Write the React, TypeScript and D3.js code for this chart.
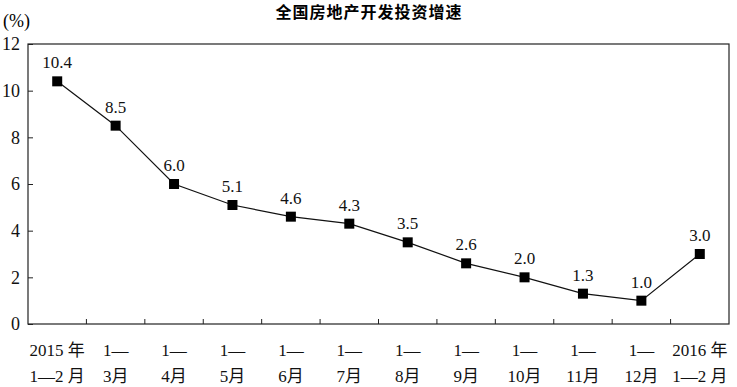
import React, { useEffect, useRef } from "react";
import * as d3 from "d3";

const line1 = ["2015 年", "1—", "1—", "1—", "1—", "1—", "1—", "1—", "1—", "1—", "1—", "2016 年"];
const line2 = ["1—2 月", "3月", "4月", "5月", "6月", "7月", "8月", "9月", "10月", "11月", "12月", "1—2 月"];
const growth = [10.4, 8.5, 6.0, 5.1, 4.6, 4.3, 3.5, 2.6, 2.0, 1.3, 1.0, 3.0];
const yTicks = [0, 2, 4, 6, 8, 10, 12];

const App = () => {
  const svgRef = useRef<SVGSVGElement>(null);

  useEffect(() => {
    const svg = d3.select(svgRef.current);
    svg.selectAll("*").remove();

    const width = 737;
    const height = 387;
    const left = 28, right = 729, top = 44, bottom = 324;
    const serif = "'Liberation Serif', 'Noto Sans CJK SC', serif";

    svg.attr("width", width).attr("height", height);

    const idx = growth.map((_, i) => i);
    const x = d3.scaleBand<number>().domain(idx).range([left, right]);
    const y = d3.scaleLinear().domain([0, 12]).range([bottom, top]);

    // title
    svg.append("text")
      .attr("x", 369).attr("y", 18)
      .attr("text-anchor", "middle")
      .attr("font-family", "'Noto Sans CJK SC', sans-serif")
      .attr("font-weight", "bold")
      .attr("font-size", 16)
      .attr("letter-spacing", 1)
      .text("全国房地产开发投资增速");

    svg.append("text")
      .attr("x", 3).attr("y", 27)
      .attr("font-family", serif)
      .attr("font-size", 18)
      .text("(%)");

    // frame
    svg.append("rect")
      .attr("x", left).attr("y", top)
      .attr("width", right - left).attr("height", bottom - top)
      .attr("fill", "none")
      .attr("stroke", "#222")
      .attr("stroke-width", 1.2);

    // y axis, inward ticks
    const yAxis = svg.append("g")
      .attr("transform", `translate(${left},0)`)
      .call(d3.axisLeft(y).tickValues(yTicks).tickSize(-5).tickPadding(8).tickFormat(d3.format("d")));
    yAxis.select(".domain").remove();
    yAxis.selectAll("line").attr("stroke", "#222");
    yAxis.selectAll("text")
      .attr("font-family", serif)
      .attr("font-size", 18)
      .attr("fill", "#111");

    // x ticks between categories, pointing up
    svg.append("g")
      .selectAll("line")
      .data(idx.slice(1))
      .enter()
      .append("line")
      .attr("x1", d => x(d)!)
      .attr("x2", d => x(d)!)
      .attr("y1", bottom)
      .attr("y2", bottom - 5)
      .attr("stroke", "#222");

    // x labels
    const lab = svg.append("g")
      .attr("font-family", serif)
      .attr("font-size", 17)
      .attr("fill", "#111")
      .attr("text-anchor", "middle");
    lab.selectAll("text.l1")
      .data(idx)
      .enter()
      .append("text")
      .attr("x", d => x(d)! + x.bandwidth() / 2)
      .attr("y", 356)
      .text(d => line1[d]);
    lab.selectAll("text.l2")
      .data(idx)
      .enter()
      .append("text")
      .attr("x", d => x(d)! + x.bandwidth() / 2)
      .attr("y", 382)
      .text(d => line2[d]);

    const cx = (i: number) => x(i)! + x.bandwidth() / 2;

    // line
    const lineGen = d3.line<number>()
      .x((_, i) => cx(i))
      .y(d => y(d));
    svg.append("path")
      .datum(growth)
      .attr("d", lineGen)
      .attr("fill", "none")
      .attr("stroke", "#111")
      .attr("stroke-width", 1.2);

    // markers
    svg.selectAll("rect.pt")
      .data(growth)
      .enter()
      .append("rect")
      .attr("class", "pt")
      .attr("x", (_, i) => cx(i) - 5)
      .attr("y", d => y(d) - 5)
      .attr("width", 10)
      .attr("height", 10)
      .attr("fill", "#000");

    // value labels
    svg.selectAll("text.val")
      .data(growth)
      .enter()
      .append("text")
      .attr("class", "val")
      .attr("x", (_, i) => cx(i))
      .attr("y", d => y(d) - 13)
      .attr("text-anchor", "middle")
      .attr("font-family", serif)
      .attr("font-size", 17)
      .attr("fill", "#111")
      .text(d => d.toFixed(1));
  }, []);

  return <svg ref={svgRef} style={{ position: "absolute", left: 0, top: 0 }}></svg>;
};

export default App;
